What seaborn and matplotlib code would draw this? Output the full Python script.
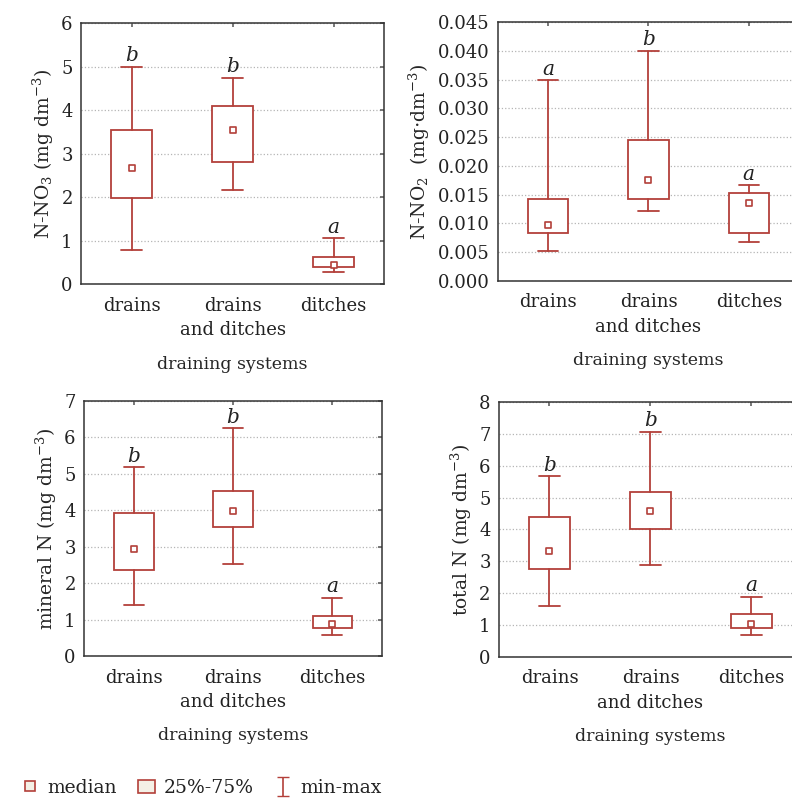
import numpy as np
import seaborn as sns
import pandas as pd
from matplotlib import pyplot as plt
from matplotlib.patches import Patch
from matplotlib.lines import Line2D

# categories (x tick labels)
systems = ["drains", "drains\nand ditches", "ditches"]

# N-NO3
no3_min = [0.79, 2.17, 0.28]
no3_q1 = [1.97, 2.80, 0.40]
no3_med = [2.67, 3.55, 0.44]
no3_q3 = [3.54, 4.09, 0.63]
no3_max = [5.00, 4.74, 1.05]
no3_letters = ["b", "b", "a"]

# N-NO2
no2_min = [0.0052, 0.0122, 0.0068]
no2_q1 = [0.0084, 0.0142, 0.0084]
no2_med = [0.0098, 0.0176, 0.0135]
no2_q3 = [0.0142, 0.0245, 0.0153]
no2_max = [0.0349, 0.0400, 0.0166]
no2_letters = ["a", "b", "a"]

# mineral N
min_min = [1.41, 2.53, 0.59]
min_q1 = [2.37, 3.54, 0.78]
min_med = [2.95, 3.97, 0.87]
min_q3 = [3.93, 4.54, 1.09]
min_max = [5.19, 6.26, 1.60]
min_letters = ["b", "b", "a"]

# total N
tot_min = [1.60, 2.87, 0.70]
tot_q1 = [2.75, 4.02, 0.92]
tot_med = [3.32, 4.58, 1.05]
tot_q3 = [4.38, 5.19, 1.34]
tot_max = [5.67, 7.07, 1.89]
tot_letters = ["b", "b", "a"]

red = "#b3403a"
cream = "#f4f0e6"

sns.set_theme(style="white")
plt.rcParams["font.family"] = ["DejaVu Serif"]
plt.rcParams["mathtext.fontset"] = "dejavuserif"
plt.rcParams["text.color"] = "#222222"

fig = plt.figure(figsize=(7.92, 8.01), dpi=100)


def panel(rect, lo, q1, med, q3, hi, letters, ylabel, ylim, yticks, fmt):
    ax = fig.add_axes(rect)
    stats = [dict(whislo=a, q1=b, med=c, q3=d, whishi=e, fliers=[])
             for a, b, c, d, e in zip(lo, q1, med, q3, hi)]
    ax.bxp(stats, positions=range(3), widths=0.4, showfliers=False,
           patch_artist=True,
           boxprops=dict(facecolor="white", edgecolor=red, linewidth=1.3),
           whiskerprops=dict(color=red, linewidth=1.3),
           capprops=dict(color=red, linewidth=1.3),
           medianprops=dict(linewidth=0), capwidths=0.2)
    df = pd.DataFrame({"x": range(3), "median": med})
    sns.scatterplot(data=df, x="x", y="median", marker="s", s=22,
                    facecolor="white", edgecolor=red, linewidth=1.2,
                    zorder=5, ax=ax)
    for i, (h, let) in enumerate(zip(hi, letters)):
        ax.annotate(let, (i, h), xytext=(0, 1), textcoords="offset points",
                    ha="center", va="bottom", style="italic", fontsize=14.5)
    ax.set_xlim(-0.5, 2.5)
    ax.set_ylim(*ylim)
    ax.set_yticks(yticks)
    ax.set_yticklabels([fmt.format(t) for t in yticks])
    ax.set_xticks(range(3))
    ax.set_xticklabels(systems, linespacing=1.45)
    ax.yaxis.grid(True, linestyle=":", color="#b5b5b5", linewidth=0.9)
    ax.tick_params(axis="both", labelsize=13, direction="in", length=3,
                   color="#666666", pad=6, top=True, right=True,
                   labelcolor="#222222")
    ax.tick_params(axis="x", pad=9)
    ax.set_xlabel("draining systems", fontsize=12.5, labelpad=12)
    ax.set_ylabel(ylabel, fontsize=13.5, labelpad=4)
    for s in ax.spines.values():
        s.set_color("#333333")
        s.set_linewidth(1.1)
    return ax


ax1 = panel([0.1023, 0.6454, 0.3826, 0.3258], no3_min, no3_q1, no3_med,
            no3_q3, no3_max, no3_letters, r"N-NO$_3$ (mg dm$^{-3}$)",
            (0, 6), range(0, 7), "{:d}")
ax2 = panel([0.6288, 0.6492, 0.3800, 0.3233], no2_min, no2_q1, no2_med,
            no2_q3, no2_max, no2_letters, r"N-NO$_2$  (mg$\cdot$dm$^{-3}$)",
            (0, 0.045), np.arange(0, 0.0451, 0.005), "{:.3f}")
ax3 = panel([0.1061, 0.1810, 0.3763, 0.3184], min_min, min_q1, min_med,
            min_q3, min_max, min_letters, r"mineral N (mg dm$^{-3}$)",
            (0, 7), range(0, 8), "{:d}")
ax4 = panel([0.6300, 0.1798, 0.3826, 0.3184], tot_min, tot_q1, tot_med,
            tot_q3, tot_max, tot_letters, r"total N (mg dm$^{-3}$)",
            (0, 8), range(0, 9), "{:d}")

# legend
eb = ax4.errorbar([np.nan], [np.nan], yerr=[1], fmt="none", ecolor=red,
                  capsize=4, elinewidth=1.2)
handles = [
    Line2D([], [], marker="s", linestyle="none", markersize=7,
           markerfacecolor=cream, markeredgecolor=red, markeredgewidth=1.2),
    Patch(facecolor=cream, edgecolor=red, linewidth=1.2),
    eb,
]
fig.legend(handles, ["median", "25%-75%", "min-max"], loc="lower left",
           bbox_to_anchor=(0.006, -0.016), ncol=3, frameon=False,
           fontsize=13.5, handlelength=0.9, handleheight=0.75,
           handletextpad=0.45, columnspacing=1.15)

fig.savefig("out.png", dpi=100)
